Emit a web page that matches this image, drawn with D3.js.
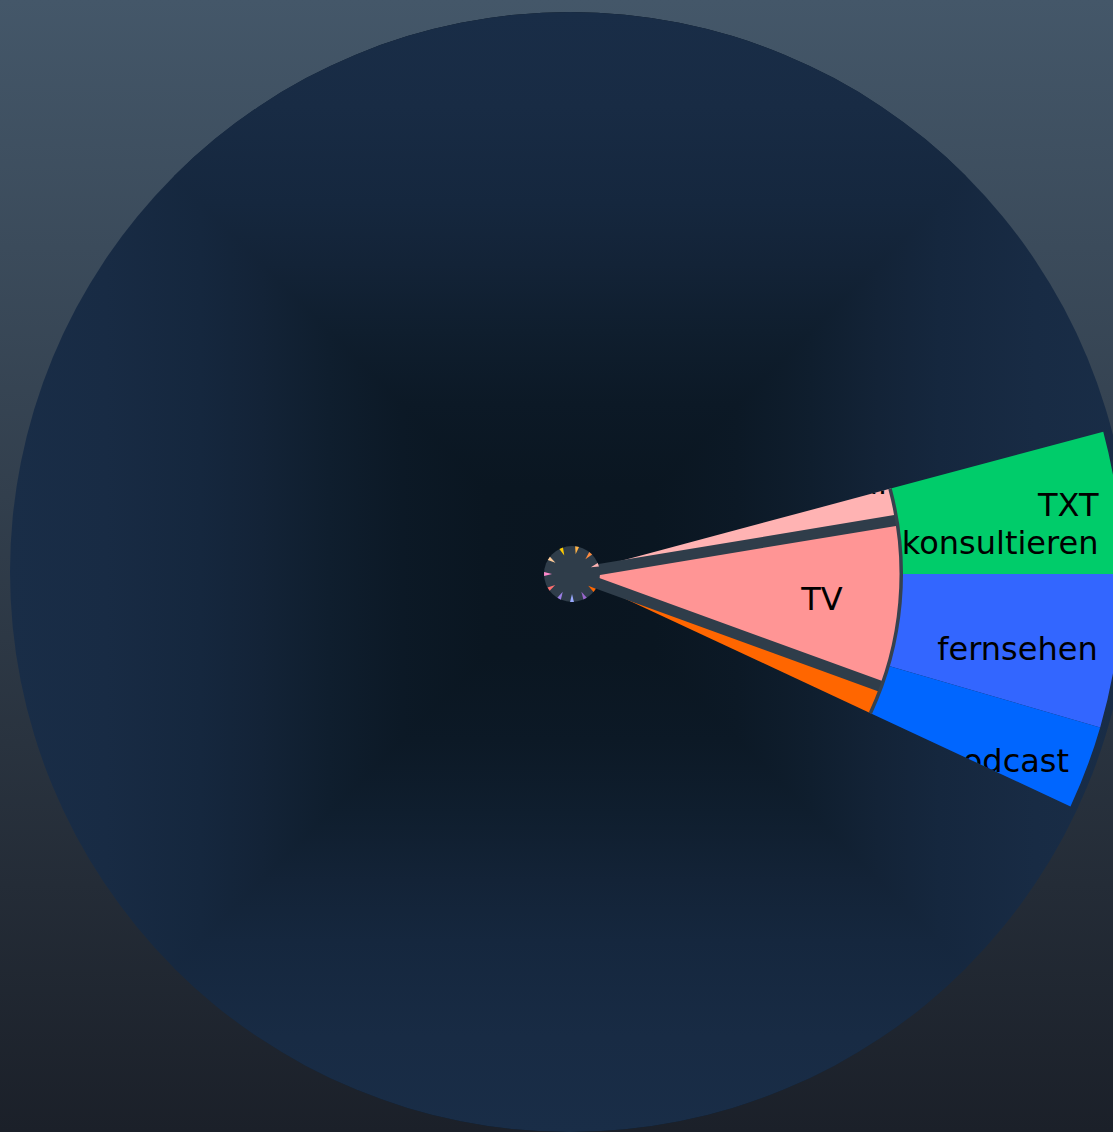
<!DOCTYPE html>
<html>
<head>
<meta charset="utf-8">
<script src="https://cdn.jsdelivr.net/npm/d3@7"></script>
<style>
  html, body { margin: 0; padding: 0; overflow: hidden; background: #2f3b48; }
  svg { display: block; }
</style>
</head>
<body>
<svg id="chart" width="1113" height="1132"></svg>
<script>
// ---------------- data ----------------
const outerNames  = ["TXT\nkonsultieren", "fernsehen", "podcast"];
const outerValues = [15, 16.2, 8.8];          // share of the full circle (360 = whole)
const outerColors = ["#00cc6a", "#3366ff", "#0066ff"];

const innerNames  = ["digital", "TV", ""];
const innerValues = [5.6, 29.4, 5];
const innerColors = ["#ffb3b3", "#ff9595", "#ff6600"];

const restValue   = 320;                      // the invisible remainder of the circle
const startDegree = -15;                      // where the visible block starts (0 = east, clockwise)

const centerTickAngles = [-112.8, -79.5, -48, -19.4, 35.7, 62, 90, 117.5, 147, 180, -146];
const centerTickColors = ["#ffcc00", "#ffb347", "#ff8c40", "#ffb3b3", "#ff6600", "#9966cc",
                          "#99aaff", "#9b7fe6", "#ff6f6f", "#ff88cc", "#ffcc99"];

// ---------------- layout ----------------
const W = 1113, H = 1132;
const cx = 572, cy = 574;
const discCx = 570, discCy = 572, discR = 560;
const ringRadii = [28, 172, 330, 550];   // centre, inner-label ring, inner ring, outer ring
const fontSize = 32;
const toArc = deg => (deg + 90) * Math.PI / 180;

const svg = d3.select("#chart");
const defs = svg.append("defs");

const bg = defs.append("linearGradient").attr("id", "bg")
  .attr("x1", 0).attr("y1", 0).attr("x2", 0).attr("y2", 1);
bg.append("stop").attr("offset", "0%").attr("stop-color", "#445769");
bg.append("stop").attr("offset", "100%").attr("stop-color", "#1b2029");

// square-shaped darkening of the disc: darkness vs distance from centre (fraction of radius)
const shade = [[0, 1], [0.15, 0.97], [0.3, 0.85], [0.43, 0.64], [0.55, 0.42], [0.66, 0.26], [0.83, 0.1], [1, 0.02]];
const mixDisc = d3.interpolateRgb("#192d48", "#0a1520");
const stops = [...shade.slice().reverse().map(([d, v]) => [0.5 - d / 2, v]),
               ...shade.slice(1).map(([d, v]) => [0.5 + d / 2, v])];
["gx", "gy"].forEach((id, k) => {
  const lg = defs.append("linearGradient").attr("id", id)
    .attr("x1", 0).attr("y1", 0).attr("x2", k === 0 ? 1 : 0).attr("y2", k === 0 ? 0 : 1);
  stops.forEach(([o, v]) => lg.append("stop").attr("offset", o).attr("stop-color", mixDisc(v)));
});
const L = discCx - discR, T = discCy - discR, R = discCx + discR, B = discCy + discR;
defs.append("clipPath").attr("id", "clipTB").append("path")
  .attr("d", `M${L},${T}L${discCx},${discCy}L${R},${T}Z M${L},${B}L${discCx},${discCy}L${R},${B}Z`);
defs.append("clipPath").attr("id", "clipDisc").append("circle")
  .attr("cx", discCx).attr("cy", discCy).attr("r", discR);

svg.append("rect").attr("width", W).attr("height", H).attr("fill", "url(#bg)");
const discG = svg.append("g").attr("clip-path", "url(#clipDisc)");
discG.append("rect").attr("x", L).attr("y", T).attr("width", 2 * discR).attr("height", 2 * discR)
  .attr("fill", "url(#gx)");
discG.append("rect").attr("x", L).attr("y", T).attr("width", 2 * discR).attr("height", 2 * discR)
  .attr("fill", "url(#gy)").attr("clip-path", "url(#clipTB)");

const g = svg.append("g").attr("transform", `translate(${cx},${cy})`);

const pie = d3.pie().sort(null).value(d => d)
  .startAngle(toArc(startDegree)).endAngle(toArc(startDegree) + 2 * Math.PI);

const innerSlices = pie([...innerValues, restValue]).slice(0, innerValues.length);
const outerSlices = pie([...outerValues, restValue]).slice(0, outerValues.length);

const innerArc = d3.arc().innerRadius(0).outerRadius(ringRadii[2]);
const outerArc = d3.arc().innerRadius(ringRadii[2]).outerRadius(ringRadii[3]);

// clip paths for labels
innerSlices.forEach((s, i) => {
  defs.append("clipPath").attr("id", "ci" + i)
    .append("path").attr("transform", `translate(${cx},${cy})`).attr("d", innerArc(s));
});
outerSlices.forEach((s, i) => {
  defs.append("clipPath").attr("id", "co" + i)
    .append("path").attr("transform", `translate(${cx},${cy})`).attr("d", outerArc(s));
});

// outer ring
g.selectAll("path.outer").data(outerSlices).join("path")
  .attr("class", "outer")
  .attr("d", outerArc)
  .attr("fill", (d, i) => outerColors[i]);

// inner ring
g.selectAll("path.inner").data(innerSlices).join("path")
  .attr("class", "inner")
  .attr("d", innerArc)
  .attr("fill", (d, i) => innerColors[i]);

// separating bands between inner segments
const band = d3.lineRadial().angle(d => d[0]).radius(d => d[1]);
g.selectAll("path.band").data(innerSlices.slice(0, -1)).join("path")
  .attr("class", "band")
  .attr("d", d => band([[d.endAngle, 0], [d.endAngle, ringRadii[2] - 1]]))
  .attr("stroke", "#2f3d4a").attr("stroke-width", 11).attr("fill", "none");

// rim line of the inner ring
g.append("path")
  .attr("d", d3.arc().innerRadius(ringRadii[2] - 2.5).outerRadius(ringRadii[2] + 1)
    .startAngle(innerSlices[0].startAngle)
    .endAngle(innerSlices[innerSlices.length - 1].endAngle)())
  .attr("fill", "#36424e");

// centre disc
g.append("circle").attr("r", ringRadii[0]).attr("fill", "#2f3d4a");

// centre ticks
const tri = d3.lineRadial().angle(d => d[0]).radius(d => d[1]).curve(d3.curveLinearClosed);
const tw = 4 * Math.PI / 180;
g.selectAll("path.tick").data(centerTickAngles).join("path")
  .attr("class", "tick")
  .attr("d", a => { const r = toArc(a); return tri([[r - tw, ringRadii[0]], [r + tw, ringRadii[0]], [r, ringRadii[0] - 8]]); })
  .attr("fill", (d, i) => centerTickColors[i]);

// labels
const labels = svg.append("g")
  .attr("font-family", "'DejaVu Sans', sans-serif")
  .attr("font-size", fontSize)
  .attr("fill", "#000");

innerSlices.forEach((s, i) => {
  const name = innerNames[i];
  if (!name) return;
  const span = (s.endAngle - s.startAngle) * 180 / Math.PI;
  const lg = labels.append("g").attr("clip-path", `url(#ci${i})`);
  if (span >= 10) {
    const mid = (s.startAngle + s.endAngle) / 2 - Math.PI / 2;
    const r = (ringRadii[1] + ringRadii[2]) / 2;
    lg.append("text")
      .attr("x", cx + r * Math.cos(mid)).attr("y", cy + r * Math.sin(mid) + 2)
      .attr("text-anchor", "middle").attr("dominant-baseline", "central")
      .text(name);
  } else {
    const a = s.startAngle - Math.PI / 2;
    const r = ringRadii[2] - 4;
    lg.append("text")
      .attr("x", cx + r * Math.cos(a)).attr("y", cy + r * Math.sin(a) + 4)
      .attr("text-anchor", "end")
      .text(name);
  }
});

outerSlices.forEach((s, i) => {
  const lines = outerNames[i].split("\n");
  const mid = (s.startAngle + s.endAngle) / 2 - Math.PI / 2;
  const r = ringRadii[3] - 19;
  const x = cx + r * Math.cos(mid), y = cy + r * Math.sin(mid);
  const t = labels.append("g").attr("clip-path", `url(#co${i})`)
    .append("text").attr("text-anchor", "end");
  lines.forEach((ln, k) => {
    t.append("tspan").attr("x", x).attr("y", y + k * 38)
      .attr("dominant-baseline", "central").text(ln);
  });
});
</script>
</body>
</html>
